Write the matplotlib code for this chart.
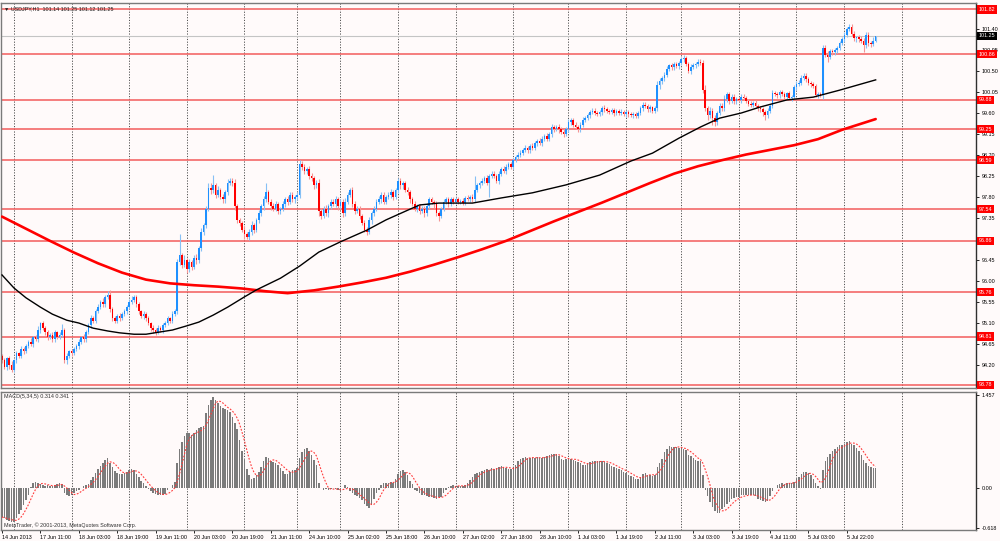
import numpy as np
import pandas as pd
import matplotlib
matplotlib.use('Agg')
import matplotlib.pyplot as plt

plt.rcParams['font.family'] = ['Liberation Sans', 'DejaVu Sans']

# USDJPY H1 closes, one row = 24 bars
closes = [
    94.30, 94.15, 94.35, 94.20, 94.10, 94.30, 94.45, 94.40, 94.55, 94.50, 94.60, 94.70, 94.65, 94.80, 94.75, 94.95, 95.10, 95.00, 94.90, 94.80, 94.85, 94.75, 94.90, 94.80,
    94.85, 94.95, 94.30, 94.40, 94.50, 94.45, 94.55, 94.60, 94.70, 94.80, 94.75, 94.90, 95.05, 95.20, 95.15, 95.35, 95.45, 95.55, 95.50, 95.65, 95.70, 95.40, 95.20, 95.15,
    95.25, 95.20, 95.30, 95.35, 95.45, 95.55, 95.60, 95.65, 95.50, 95.35, 95.25, 95.30, 95.20, 95.10, 95.00, 94.95, 94.90, 95.00, 94.95, 95.05, 95.10, 95.20, 95.15, 95.30,
    95.35, 96.40, 96.55, 96.35, 96.45, 96.25, 96.40, 96.30, 96.50, 96.45, 96.70, 97.05, 97.20, 97.55, 98.00, 97.95, 98.05, 97.85, 97.95, 97.80, 97.75, 97.90, 98.10, 98.15,
    98.10, 97.60, 97.30, 97.25, 97.10, 97.00, 96.95, 97.05, 97.20, 97.10, 97.30, 97.45, 97.60, 97.75, 97.90, 97.70, 97.60, 97.55, 97.65, 97.50, 97.55, 97.65, 97.75, 97.70,
    97.85, 97.75, 97.80, 97.85, 98.50, 98.45, 98.35, 98.40, 98.25, 98.20, 98.05, 98.10, 97.50, 97.40, 97.55, 97.45, 97.60, 97.70, 97.65, 97.75, 97.60, 97.70, 97.45, 97.70,
    97.85, 97.95, 97.65, 97.50, 97.55, 97.40, 97.25, 97.10, 97.05, 97.30, 97.45, 97.55, 97.70, 97.75, 97.85, 97.70, 97.80, 97.85, 97.90, 97.80, 97.95, 98.15, 98.05, 98.10,
    97.95, 97.90, 97.75, 97.65, 97.55, 97.60, 97.50, 97.55, 97.45, 97.60, 97.75, 97.70, 97.65, 97.45, 97.40, 97.55, 97.70, 97.75, 97.65, 97.75, 97.70, 97.75, 97.70, 97.72,
    97.68, 97.78, 97.75, 97.80, 97.75, 97.95, 98.05, 98.10, 98.15, 98.20, 98.10, 98.25, 98.30, 98.25, 98.15, 98.30, 98.40, 98.35, 98.45, 98.50, 98.45, 98.60, 98.65, 98.70,
    98.75, 98.80, 98.85, 98.80, 98.90, 98.85, 98.95, 99.00, 98.95, 99.05, 99.10, 99.05, 99.15, 99.30, 99.25, 99.30, 99.25, 99.20, 99.15, 99.25, 99.40, 99.45, 99.35, 99.30,
    99.25, 99.35, 99.45, 99.50, 99.55, 99.62, 99.65, 99.60, 99.58, 99.62, 99.70, 99.68, 99.65, 99.62, 99.66, 99.60, 99.64, 99.60, 99.63, 99.58, 99.62, 99.57, 99.55, 99.58,
    99.54, 99.60, 99.70, 99.78, 99.75, 99.68, 99.72, 99.65, 99.70, 100.20, 100.28, 100.35, 100.42, 100.55, 100.62, 100.58, 100.65, 100.60, 100.68, 100.75, 100.78, 100.65, 100.50, 100.58,
    100.62, 100.66, 100.70, 100.68, 100.10, 99.70, 99.55, 99.65, 99.50, 99.40, 99.60, 99.75, 99.70, 99.90, 100.00, 99.85, 99.95, 99.85, 99.90, 99.88, 99.95, 99.92, 99.85, 99.80,
    99.78, 99.82, 99.75, 99.70, 99.68, 99.62, 99.55, 99.65, 99.75, 100.02, 100.00, 99.98, 100.05, 100.00, 99.95, 100.02, 99.92, 99.95, 100.15, 100.22, 100.25, 100.35, 100.40, 100.32,
    100.25, 100.22, 100.18, 99.98, 100.00, 99.98, 101.00, 100.85, 100.80, 100.92, 100.90, 100.95, 101.00, 101.10, 101.18, 101.28, 101.40, 101.45, 101.30, 101.20, 101.22, 101.18, 101.15, 101.05,
    101.28, 101.10, 101.08, 101.14, 101.25,
]
first_open = 94.40

# shadows above / below the body, in hundredths of a yen
wick_up = [
    4, 6, 3, 5, 8, 3, 5, 4, 6, 3, 5, 4, 7, 3, 4, 8, 3, 5, 4, 6, 3, 5, 4, 3,
    5, 12, 4, 6, 3, 5, 4, 6, 5, 3, 6, 4, 5, 7, 4, 6, 5, 4, 8, 6, 8, 10, 5, 4,
    4, 6, 3, 5, 4, 6, 8, 5, 4, 6, 3, 5, 4, 6, 3, 5, 4, 6, 3, 5, 4, 6, 3, 5,
    4, 8, 45, 6, 10, 5, 8, 6, 5, 7, 6, 8, 5, 6, 9, 10, 22, 6, 8, 5, 7, 6, 8, 5,
    6, 8, 5, 6, 4, 7, 5, 6, 8, 5, 6, 7, 5, 8, 20, 6, 5, 7, 6, 5, 4, 6, 5, 7,
    5, 6, 4, 6, 9, 8, 6, 5, 7, 6, 5, 6, 8, 6, 5, 7, 6, 5, 6, 7, 5, 6, 5, 8,
    6, 5, 7, 6, 5, 6, 4, 6, 5, 7, 6, 5, 6, 7, 5, 6, 5, 6, 7, 5, 5, 6, 5, 4,
    5, 6, 4, 5, 6, 5, 4, 6, 5, 7, 6, 5, 4, 6, 5, 4, 6, 5, 4, 5, 4, 5, 6, 4,
    5, 4, 6, 5, 7, 30, 5, 4, 6, 5, 7, 5, 6, 5, 4, 6, 5, 7, 6, 5, 6, 4, 5, 6,
    5, 4, 6, 5, 4, 6, 5, 4, 6, 5, 4, 7, 5, 6, 4, 5, 6, 4, 5, 6, 7, 5, 4, 5,
    4, 5, 6, 4, 5, 4, 6, 5, 4, 5, 4, 8, 5, 4, 5, 4, 5, 4, 5, 4, 5, 4, 5, 4,
    5, 4, 5, 6, 5, 4, 5, 4, 5, 8, 6, 5, 6, 5, 4, 5, 4, 5, 4, 5, 6, 5, 4, 6,
    5, 4, 6, 5, 6, 10, 6, 8, 5, 6, 5, 7, 6, 8, 5, 6, 5, 6, 5, 4, 5, 6, 5, 4,
    5, 4, 5, 4, 5, 4, 5, 6, 5, 8, 5, 6, 5, 4, 5, 4, 5, 4, 5, 6, 5, 6, 5, 6,
    5, 4, 5, 4, 5, 4, 5, 6, 8, 5, 6, 5, 4, 5, 5, 6, 5, 6, 6, 5, 4, 5, 6, 5,
    5, 6, 5, 8, 0,
]
wick_dn = [
    5, 4, 6, 8, 5, 4, 6, 5, 4, 6, 5, 4, 5, 6, 4, 5, 6, 4, 5, 7, 4, 5, 6, 4,
    5, 4, 6, 8, 5, 6, 4, 5, 6, 4, 5, 6, 4, 5, 6, 5, 4, 5, 6, 5, 4, 6, 5, 4,
    5, 6, 4, 5, 6, 4, 5, 4, 6, 5, 4, 6, 5, 4, 8, 6, 5, 4, 5, 6, 4, 5, 6, 5,
    4, 6, 5, 8, 6, 7, 5, 6, 5, 8, 6, 5, 7, 6, 5, 8, 6, 7, 6, 5, 7, 8, 6, 5,
    6, 7, 5, 8, 6, 10, 6, 8, 6, 7, 6, 5, 6, 7, 5, 6, 8, 6, 5, 7, 6, 5, 6, 7,
    5, 6, 8, 6, 7, 8, 6, 5, 7, 6, 8, 6, 10, 8, 6, 5, 7, 6, 5, 6, 8, 6, 7, 5,
    6, 5, 7, 6, 5, 8, 6, 5, 6, 5, 8, 6, 5, 6, 7, 5, 6, 5, 7, 6, 5, 6, 7, 8,
    5, 6, 7, 5, 6, 8, 6, 5, 7, 6, 5, 6, 8, 6, 12, 5, 6, 5, 6, 5, 4, 6, 5, 4,
    6, 5, 4, 5, 6, 5, 4, 6, 5, 4, 5, 30, 5, 5, 6, 7, 5, 4, 6, 5, 4, 6, 5, 4,
    5, 6, 4, 5, 6, 4, 5, 6, 4, 5, 6, 5, 4, 6, 5, 4, 8, 5, 6, 4, 5, 6, 4, 5,
    6, 5, 4, 5, 4, 6, 5, 4, 5, 4, 6, 5, 4, 5, 4, 6, 5, 4, 5, 4, 6, 5, 4, 5,
    4, 5, 4, 5, 4, 6, 5, 4, 5, 6, 8, 5, 6, 5, 4, 6, 5, 4, 5, 6, 5, 4, 5, 6,
    4, 5, 6, 5, 8, 6, 10, 6, 15, 8, 6, 5, 6, 5, 6, 5, 4, 6, 5, 4, 6, 5, 4, 5,
    6, 5, 4, 6, 5, 8, 10, 5, 6, 5, 4, 6, 5, 4, 6, 5, 4, 6, 5, 6, 5, 4, 5, 6,
    5, 6, 5, 4, 5, 4, 8, 6, 10, 5, 6, 5, 6, 5, 4, 5, 6, 5, 6, 5, 7, 6, 5, 14,
    5, 6, 6, 5, 2,
]

# MACD(5,34,5) main line, same bars
macd_main = [
    -0.45, -0.47, -0.49, -0.51, -0.52, -0.52, -0.46, -0.40, -0.34, -0.26, -0.18, -0.10, 0.02, 0.08, 0.10, 0.09, 0.06, 0.05, 0.04, 0.05, 0.03, 0.04, 0.05, 0.06,
    0.08, 0.07, -0.08, -0.11, -0.12, -0.10, -0.08, -0.05, -0.03, 0.01, 0.03, 0.05, 0.07, 0.13, 0.18, 0.24, 0.30, 0.35, 0.40, 0.44, 0.47, 0.40, 0.33, 0.27,
    0.24, 0.23, 0.22, 0.24, 0.26, 0.29, 0.30, 0.28, 0.22, 0.17, 0.12, 0.08, 0.04, -0.01, -0.05, -0.08, -0.09, -0.10, -0.10, -0.11, -0.09, -0.03, 0.01, 0.05,
    0.10, 0.39, 0.62, 0.72, 0.82, 0.87, 0.86, 0.83, 0.87, 0.91, 0.94, 0.96, 0.97, 1.17, 1.30, 1.38, 1.42, 1.38, 1.33, 1.28, 1.26, 1.24, 1.22, 1.20,
    1.12, 1.02, 0.92, 0.75, 0.58, 0.44, 0.30, 0.20, 0.14, 0.16, 0.20, 0.25, 0.34, 0.42, 0.49, 0.47, 0.43, 0.41, 0.39, 0.36, 0.31, 0.27, 0.23, 0.22,
    0.26, 0.28, 0.29, 0.31, 0.48, 0.56, 0.62, 0.63, 0.58, 0.52, 0.44, 0.36, 0.08, 0.00, -0.02, -0.01, -0.02, -0.01, 0.00, -0.01, -0.03, -0.06, 0.00, 0.05,
    0.02, -0.05, -0.08, -0.10, -0.12, -0.15, -0.18, -0.24, -0.28, -0.31, -0.26, -0.16, -0.08, -0.02, 0.05, 0.08, 0.09, 0.09, 0.10, 0.09, 0.14, 0.22, 0.27, 0.29,
    0.26, 0.20, 0.12, 0.06, -0.02, -0.05, -0.08, -0.10, -0.10, -0.12, -0.14, -0.13, -0.15, -0.16, -0.14, -0.13, -0.08, -0.03, 0.02, 0.04, 0.05, 0.04, 0.03, 0.03,
    0.04, 0.05, 0.08, 0.13, 0.18, 0.22, 0.24, 0.25, 0.27, 0.28, 0.30, 0.29, 0.31, 0.30, 0.32, 0.33, 0.35, 0.33, 0.31, 0.30, 0.30, 0.31, 0.36, 0.42,
    0.46, 0.48, 0.49, 0.48, 0.47, 0.48, 0.47, 0.49, 0.48, 0.47, 0.49, 0.50, 0.52, 0.53, 0.54, 0.53, 0.50, 0.45, 0.44, 0.46, 0.47, 0.46, 0.44, 0.43,
    0.41, 0.39, 0.37, 0.36, 0.39, 0.41, 0.42, 0.42, 0.42, 0.42, 0.42, 0.41, 0.40, 0.38, 0.35, 0.33, 0.31, 0.30, 0.28, 0.26, 0.24, 0.21, 0.19, 0.17,
    0.15, 0.14, 0.18, 0.22, 0.24, 0.21, 0.20, 0.19, 0.20, 0.34, 0.40, 0.45, 0.57, 0.62, 0.66, 0.65, 0.65, 0.64, 0.63, 0.62, 0.61, 0.60, 0.52, 0.50,
    0.47, 0.44, 0.43, 0.42, 0.20, -0.03, -0.12, -0.22, -0.30, -0.36, -0.39, -0.38, -0.33, -0.29, -0.25, -0.21, -0.17, -0.15, -0.14, -0.13, -0.11, -0.10, -0.11, -0.10,
    -0.11, -0.11, -0.12, -0.16, -0.18, -0.20, -0.21, -0.20, -0.12, -0.05, 0.00, 0.05, 0.07, 0.08, 0.07, 0.08, 0.08, 0.09, 0.10, 0.14, 0.18, 0.22, 0.25, 0.26,
    0.24, 0.20, 0.14, 0.08, 0.03, -0.01, 0.29, 0.42, 0.49, 0.54, 0.58, 0.61, 0.65, 0.67, 0.68, 0.70, 0.72, 0.74, 0.70, 0.67, 0.63, 0.58, 0.52, 0.44,
    0.39, 0.35, 0.33, 0.32, 0.314,
]

# moving averages at some bars
ma_fast_bars = [0, 5, 10, 16, 21, 27, 32, 38, 44, 49, 55, 60, 66, 71, 77, 82, 88, 94, 101, 106,
                116, 124, 132, 141, 152, 160, 170, 174, 182, 196, 208, 221, 235, 249, 262, 271, 282, 291, 299, 308,
                316, 327, 338, 349, 364]
ma_fast_vals = [96.13, 95.85, 95.64, 95.44, 95.29, 95.16, 95.10, 94.99, 94.93, 94.89,
                94.86, 94.86, 94.91, 94.95, 95.04, 95.12, 95.27, 95.44, 95.66, 95.81,
                96.06, 96.32, 96.62, 96.84, 97.09, 97.31, 97.54, 97.63, 97.67, 97.67,
                97.78, 97.89, 98.06, 98.27, 98.57, 98.74, 99.06, 99.30, 99.49, 99.60,
                99.73, 99.88, 99.94, 100.09, 100.31]
ma_slow_bars = [0, 10, 20, 30, 40, 50, 60, 70, 80, 90, 100, 110, 119, 130, 140, 150, 160, 170, 180, 190,
                200, 210, 220, 230, 240, 250, 260, 270, 280, 290, 300, 310, 320, 330, 340, 350, 364]
ma_slow_vals = [97.38, 97.12, 96.86, 96.61, 96.38, 96.18, 96.03, 95.95, 95.91, 95.88,
                95.84, 95.78, 95.74, 95.80, 95.88, 95.97, 96.07, 96.20, 96.35, 96.51,
                96.68, 96.86, 97.07, 97.28, 97.48, 97.68, 97.89, 98.10, 98.30, 98.46,
                98.59, 98.71, 98.81, 98.91, 99.04, 99.24, 99.47]

levels = [101.82, 100.86, 99.88, 99.25, 98.59, 97.54, 96.86, 95.76, 94.81, 93.78]
bid = 101.25
price_ticks = [101.40, 100.95, 100.50, 100.05, 99.60, 99.15, 98.70, 98.25, 97.80, 97.35,
               96.45, 96.00, 95.55, 95.10, 94.65, 94.20]
macd_ticks = [1.457, 0.0, -0.618]
macd_tick_labels = ['1.457', '0.00', '-0.618']
time_labels = ['14 Jun 2013', '17 Jun 11:00', '18 Jun 03:00', '18 Jun 19:00', '19 Jun 11:00',
               '20 Jun 03:00', '20 Jun 19:00', '21 Jun 11:00', '24 Jun 10:00', '25 Jun 02:00',
               '25 Jun 18:00', '26 Jun 10:00', '27 Jun 02:00', '27 Jun 18:00', '28 Jun 10:00',
               '1 Jul 03:00', '1 Jul 19:00', '2 Jul 11:00', '3 Jul 03:00', '3 Jul 19:00',
               '4 Jul 11:00', '5 Jul 03:00', '5 Jul 22:00']
label_step = 16
grid_bars = [5, 29, 53, 77, 101, 123, 141, 165, 189, 213, 236, 260, 283, 307, 331, 351, 375]

title = '\u25bc USDJPY,H1  101.14 101.25 101.12 101.25'
macd_title = 'MACD(5,34,5) 0.314 0.341'
copyright_text = 'MetaTrader, \u00a9 2001-2013, MetaQuotes Software Corp.'

# ---- candles
n = len(closes)
x = np.arange(n)
c = np.array(closes)
o = np.r_[first_open, c[:-1]]
hi = np.maximum(o, c) + np.array(wick_up) / 100
lo = np.minimum(o, c) - np.array(wick_dn) / 100
bull = c >= o

bg = '#fffafa'
blue = '#1e90ff'
red = '#ff0000'
fs = 3.9

fig = plt.figure(figsize=(10, 5.41), dpi=100, facecolor=bg)
ax = fig.add_axes([0.001, 1 - 388 / 541, 0.975, 385 / 541], facecolor=bg)
ax2 = fig.add_axes([0.001, 1 - 530 / 541, 0.975, 138 / 541], facecolor=bg)

for a in (ax, ax2):
    a.set_xlim(-0.42, 405.8)
    for gb in grid_bars:
        a.axvline(gb, color='#505050', lw=0.7, ls=(0, (1.2, 1.6)), zorder=1)
    for s in a.spines.values():
        s.set_color('#7a7a7a')
        s.set_linewidth(1.0)
    a.spines['right'].set_color('#303030')
    a.yaxis.tick_right()

ax.set_ylim(93.708, 101.957)
for v in levels:
    ax.axhline(v, color='#f25c5c', lw=1.1, zorder=1.5)
ax.axhline(bid, color='#c4c4c4', lw=0.8, zorder=1.5)

wick_col = np.where(bull, '#86c0f5', '#f59494')
ax.vlines(x, lo, hi, colors=wick_col, lw=0.8, zorder=2)
body = np.maximum(np.abs(c - o), 0.012)
ax.bar(x, body, bottom=np.minimum(o, c), width=0.65,
       color=np.where(bull, blue, red), lw=0, zorder=2.2)

ax.plot(ma_slow_bars, ma_slow_vals, color=red, lw=1.9, zorder=3, solid_capstyle='round')
ax.plot(ma_fast_bars, ma_fast_vals, color='black', lw=1.0, zorder=3.1)

ax.set_xticks([])
ax.set_yticks(price_ticks)
ax.set_yticklabels([f'{v:.2f}' for v in price_ticks])
ax.tick_params(axis='y', direction='out', length=2.5, width=0.6, pad=1.5,
               labelsize=fs, colors='black')

ytr = ax.get_yaxis_transform()
for v in levels:
    ax.text(1.003, v, f'{v:.2f}', transform=ytr, fontsize=fs, color='white',
            va='center', ha='left', clip_on=False, zorder=10,
            bbox=dict(boxstyle='square,pad=0.3', fc=red, ec='none'))
ax.text(1.003, bid, f'{bid:.2f}', transform=ytr, fontsize=fs, color='white',
        va='center', ha='left', clip_on=False, zorder=10,
        bbox=dict(boxstyle='square,pad=0.3', fc='black', ec='none'))

ax.text(0.003, 0.992, title, transform=ax.transAxes, fontsize=fs, va='top', ha='left',
        color='#202020', zorder=10)

# ---- MACD panel
macd = np.array(macd_main)
signal = pd.Series(macd).rolling(5, min_periods=1).mean()
ax2.set_ylim(-0.652, 1.505)
ax2.bar(x, macd, width=0.62, color='#7b7b7b', lw=0, zorder=2)
ax2.plot(x, signal, color='#ff3b3b', lw=0.8, ls=(0, (1.6, 1.4)), zorder=3)

ax2.set_yticks(macd_ticks)
ax2.set_yticklabels(macd_tick_labels)
ax2.tick_params(axis='y', direction='out', length=2.5, width=0.6, pad=1.5,
                labelsize=fs, colors='black')
tick_pos = [i * label_step for i in range(len(time_labels))]
ax2.set_xticks(tick_pos)
ax2.set_xticklabels(time_labels, ha='left')
ax2.tick_params(axis='x', direction='out', length=2.5, width=0.6, pad=1.2,
                labelsize=fs, colors='black')

ax2.text(0.003, 0.985, macd_title, transform=ax2.transAxes, fontsize=fs, va='top',
         ha='left', color='#303030', zorder=10)
ax2.text(0.003, 0.015, copyright_text, transform=ax2.transAxes, fontsize=fs, va='bottom',
         ha='left', color='#303030', zorder=10)

fig.savefig('out.png', dpi=100, facecolor=bg)
